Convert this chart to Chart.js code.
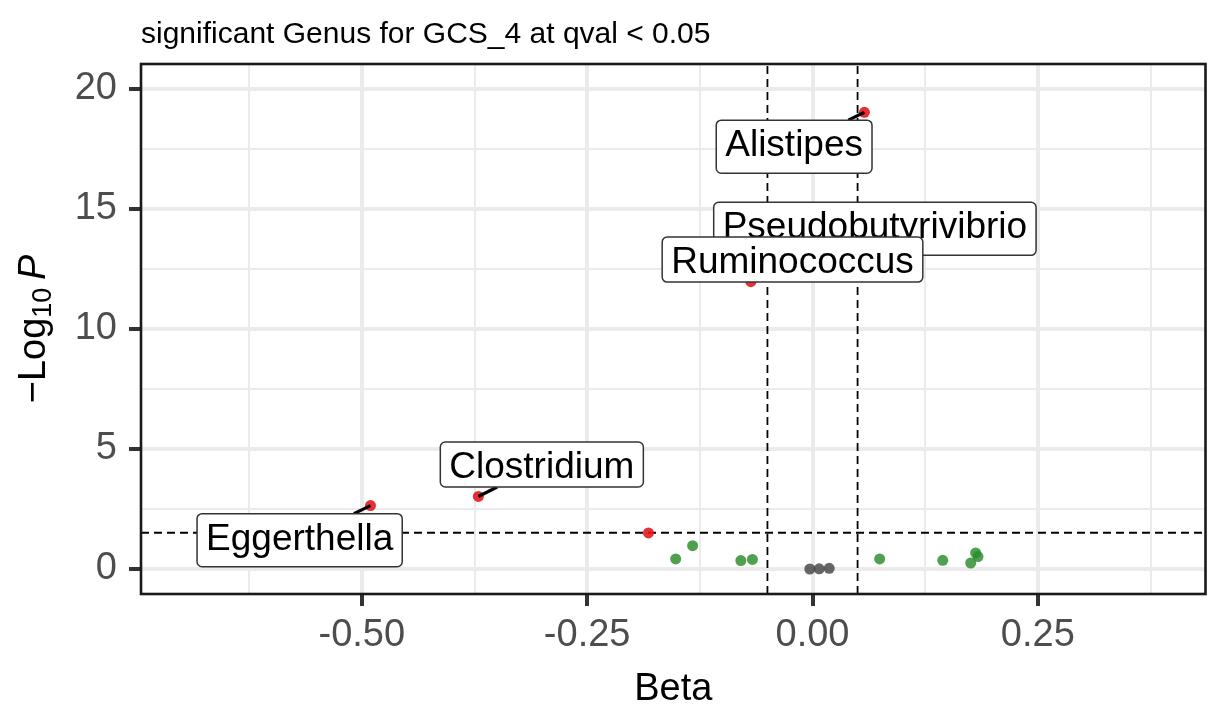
<!DOCTYPE html>
<html><head><meta charset="utf-8">
<style>html,body{margin:0;padding:0;background:#fff}#wrap{width:1211px;height:709px;position:relative}</style>
<script src="https://cdn.jsdelivr.net/npm/chart.js@4.4.1/dist/chart.umd.min.js"></script>
</head><body><div id="wrap"><canvas id="c" width="1211" height="709"></canvas></div>
<script>
// ---------- data ----------
const titleText = 'significant Genus for GCS_4 at qval < 0.05';
const xTitle = 'Beta';
const xTickValues = [-0.5, -0.25, 0, 0.25];
const xTickLabels = ['-0.50', '-0.25', '0.00', '0.25'];
const xMinorValues = [-0.625, -0.375, -0.125, 0.125, 0.375];
const yTickValues = [0, 5, 10, 15, 20];
const yTickLabels = ['0', '5', '10', '15', '20'];
const yMinorValues = [2.5, 7.5, 12.5, 17.5];
const xRange = [-0.745, 0.436];
const yRange = [-1.04, 21.02];
const betaThresholds = [-0.05, 0.05];
const pThreshold = 1.51;

// FDR-significant genera (red)
const sigNames = ['Alistipes', 'Pseudobutyrivibrio', 'Ruminococcus', 'Clostridium', 'Eggerthella', null];
const sigBeta  = [0.0576, 0.030, -0.0684, -0.3707, -0.4904, -0.182];
const sigLogP  = [19.01, 13.95, 11.96, 3.02, 2.64, 1.50];
// nominal (green)
const nomBeta = [-0.1518, -0.133, -0.0795, -0.0667, 0.0745, 0.1445, 0.1755, 0.181, 0.1836];
const nomLogP = [0.42, 0.97, 0.35, 0.40, 0.42, 0.36, 0.25, 0.67, 0.52];
// not significant (grey)
const nsBeta = [-0.003, 0.0074, 0.0185];
const nsLogP = [0.0, 0.01, 0.03];

// label box centres (repelled positions, data units)
const labelBeta = [-0.0204, 0.0692, -0.0222, -0.3003, -0.569];
const labelLogP = [17.58, 14.16, 12.88, 4.35, 1.20];

// ---------- helpers ----------
const FONT = "'Liberation Sans', Arial, Helvetica, sans-serif";
const isMajor = (arr, v) => arr.some(t => Math.abs(t - v) < 1e-9);
const tickLabel = (vals, labs, v) => { const i = vals.findIndex(t => Math.abs(t - v) < 1e-9); return i >= 0 ? labs[i] : ''; };

const overlay = {
  id: 'overlay',
  afterDatasetsDraw(chart) {
    const c = chart.ctx, xs = chart.scales.x, ys = chart.scales.y, a = chart.chartArea;
    c.save();
    c.font = '37px ' + FONT;
    const boxes = [];
    for (let i = 0; i < labelBeta.length; i++) {
      const name = sigNames[i];
      const m = c.measureText(name);
      const asc = m.actualBoundingBoxAscent, desc = Math.max(0, m.actualBoundingBoxDescent);
      const w = m.width + 18, h = asc + desc + 18;
      const cx = xs.getPixelForValue(labelBeta[i]), cy = ys.getPixelForValue(labelLogP[i]);
      const b = {l: cx - w / 2, r: cx + w / 2, t: cy - h / 2, b: cy + h / 2, cx, cy, asc, desc, name};
      boxes.push(b);
      const px = xs.getPixelForValue(sigBeta[i]), py = ys.getPixelForValue(sigLogP[i]);
      const inside = px >= b.l && px <= b.r && py >= b.t && py <= b.b;
      if (!inside) {
        const dx = cx - px, dy = cy - py;
        let tmin = 1;
        if (dx !== 0) { for (const ex of [b.l, b.r]) { const t = (ex - px) / dx; const yy = py + t * dy; if (t > 0 && t < tmin && yy >= b.t - 0.01 && yy <= b.b + 0.01) tmin = t; } }
        if (dy !== 0) { for (const ey of [b.t, b.b]) { const t = (ey - py) / dy; const xx = px + t * dx; if (t > 0 && t < tmin && xx >= b.l - 0.01 && xx <= b.r + 0.01) tmin = t; } }
        const ex = px + tmin * dx, ey = py + tmin * dy;
        if (Math.hypot(ex - px, ey - py) > 6) {
          c.beginPath(); c.moveTo(px, py); c.lineTo(ex, ey);
          c.strokeStyle = '#000'; c.lineWidth = 3.2; c.stroke();
        }
      }
    }
    for (const b of boxes) {
      c.beginPath();
      c.roundRect(b.l, b.t, b.r - b.l, b.b - b.t, 5);
      c.fillStyle = '#fff'; c.fill();
      c.strokeStyle = '#333'; c.lineWidth = 1.5; c.stroke();
      c.fillStyle = '#000'; c.textAlign = 'center'; c.textBaseline = 'alphabetic';
      const inkH = b.asc + b.desc;
      c.fillText(b.name, b.cx, b.cy - inkH / 2 + b.asc);
    }
    c.strokeStyle = '#1a1a1a'; c.lineWidth = 2.6;
    c.strokeRect(a.left, a.top, a.right - a.left, a.bottom - a.top);
    c.restore();
  },
  afterDraw(chart) {
    const c = chart.ctx, a = chart.chartArea;
    c.save();
    c.fillStyle = '#000'; c.font = '30px ' + FONT; c.textAlign = 'left'; c.textBaseline = 'alphabetic';
    c.fillText(titleText, a.left, 43);
    c.font = '38px ' + FONT; c.textAlign = 'center';
    c.fillText(xTitle, (a.left + a.right) / 2, 700);
    c.translate(45, (a.top + a.bottom) / 2);
    c.rotate(-Math.PI / 2);
    c.textAlign = 'left';
    const parts = [
      {t: '\u2212Log', f: '38px ' + FONT, dy: 0},
      {t: '10', f: '27px ' + FONT, dy: 6},
      {t: '\u2009', f: '38px ' + FONT, dy: 0},
      {t: 'P', f: 'italic 38px ' + FONT, dy: 0}
    ];
    let total = 0;
    for (const p of parts) { c.font = p.f; p.w = c.measureText(p.t).width; total += p.w; }
    let x = -total / 2;
    for (const p of parts) { c.font = p.f; c.fillText(p.t, x, p.dy); x += p.w; }
    c.restore();
  }
};

const pts = (xs, ys) => xs.map((x, i) => ({x, y: ys[i]}));
const vline = v => [{x: v, y: yRange[0]}, {x: v, y: yRange[1]}];
const dashStyle = {borderColor: '#000', borderWidth: 1.8, borderDash: [8, 5], pointRadius: 0, order: 10};

new Chart(document.getElementById('c'), {
  type: 'scatter',
  data: {
    datasets: [
      {label: 'FDR', data: pts(sigBeta, sigLogP), backgroundColor: 'rgba(228,26,28,0.9)', pointRadius: 5.5, borderWidth: 0, order: 1},
      {label: 'nominal', data: pts(nomBeta, nomLogP), backgroundColor: 'rgba(40,140,40,0.82)', pointRadius: 5.5, borderWidth: 0, order: 2},
      {label: 'ns', data: pts(nsBeta, nsLogP), backgroundColor: 'rgba(64,64,64,0.8)', pointRadius: 5.5, borderWidth: 0, order: 3},
      Object.assign({type: 'line', data: vline(betaThresholds[0])}, dashStyle),
      Object.assign({type: 'line', data: vline(betaThresholds[1])}, dashStyle),
      Object.assign({type: 'line', data: [{x: xRange[0], y: pThreshold}, {x: xRange[1], y: pThreshold}]}, dashStyle)
    ]
  },
  options: {
    responsive: false, animation: false, devicePixelRatio: 1,
    layout: {padding: {top: 64, right: 2, left: 0, bottom: 0}},
    plugins: {legend: {display: false}, tooltip: {enabled: false}, title: {display: false}},
    scales: {
      x: {
        type: 'linear', min: xRange[0], max: xRange[1],
        afterBuildTicks: s => { s.ticks = [...xTickValues, ...xMinorValues].sort((a, b) => a - b).map(v => ({value: v})); },
        afterFit: s => { s.height = 115; },
        ticks: {callback: v => tickLabel(xTickValues, xTickLabels, v), font: {size: 38, family: FONT}, color: '#4D4D4D', padding: 7, maxRotation: 0, autoSkip: false},
        grid: {color: '#EBEBEB', lineWidth: c => isMajor(xTickValues, c.tick.value) ? 4 : 2, tickLength: 12, tickWidth: 4,
               tickColor: c => isMajor(xTickValues, c.tick.value) ? '#333' : 'rgba(0,0,0,0)'},
        border: {display: false}
      },
      y: {
        type: 'linear', min: yRange[0], max: yRange[1],
        afterBuildTicks: s => { s.ticks = [...yTickValues, ...yMinorValues].sort((a, b) => a - b).map(v => ({value: v})); },
        afterFit: s => { s.width = 141; },
        ticks: {callback: v => tickLabel(yTickValues, yTickLabels, v), font: {size: 38, family: FONT}, color: '#4D4D4D', padding: 12, autoSkip: false},
        grid: {color: '#EBEBEB', lineWidth: c => isMajor(yTickValues, c.tick.value) ? 4 : 2, tickLength: 12, tickWidth: 4,
               tickColor: c => isMajor(yTickValues, c.tick.value) ? '#333' : 'rgba(0,0,0,0)'},
        border: {display: false}
      }
    }
  },
  plugins: [overlay]
});
</script></body></html>
